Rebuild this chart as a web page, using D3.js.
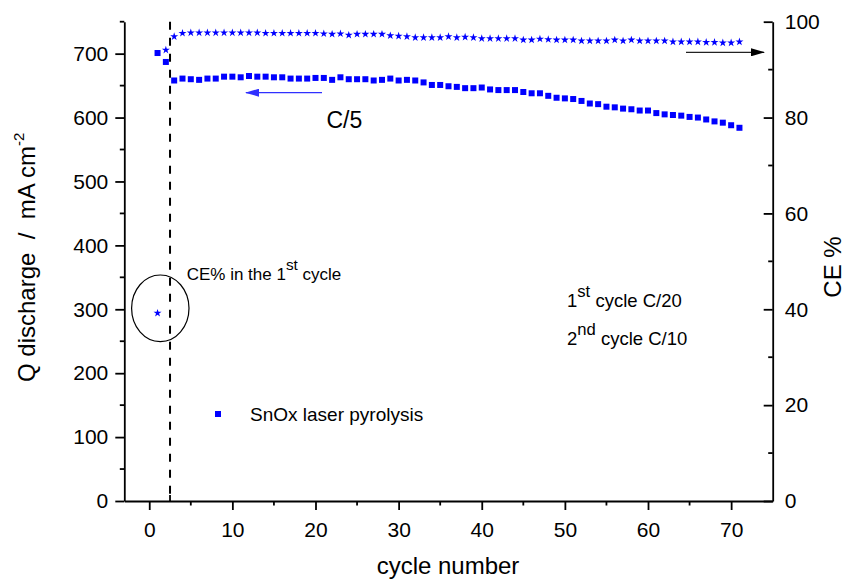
<!DOCTYPE html>
<html>
<head>
<meta charset="utf-8">
<script src="https://cdn.jsdelivr.net/npm/d3@7"></script>
<style>
  html, body { margin: 0; padding: 0; background: #fff; }
  svg text { font-family: "Liberation Sans", Arial, sans-serif; fill: #000; }
</style>
</head>
<body>
<svg id="chart" width="846" height="586"></svg>
<script>
// ─── Data ──────────────────────────────────────
const cycles = d3.range(1, 72);   // cycle 1 … 71

// Q discharge, mA cm-2 (left axis)
const qDischarge = [
  701, 687, 658, 661, 660, 659, 661, 661, 664, 664,
  663, 665, 664, 664, 663, 663, 661, 661, 661, 662,
  662, 659, 663, 660, 660, 660, 658, 659, 661, 658,
  659, 658, 655, 651, 651, 649, 648, 646, 646, 647,
  644, 643, 643, 643, 640, 638, 638, 634, 631, 630,
  629, 626, 622, 621, 617, 616, 614, 613, 611, 611,
  607, 605, 604, 603, 601, 600, 597, 594, 592, 588,
  584
];

// Coulombic efficiency, % (right axis)
const ceValues = [
  39.2, 94.1, 96.9, 97.6, 97.7, 97.7, 97.7, 97.7, 97.7, 97.7,
  97.7, 97.7, 97.7, 97.6, 97.6, 97.6, 97.6, 97.6, 97.6, 97.6,
  97.5, 97.4, 97.5, 97.2, 97.4, 97.4, 97.4, 97.4, 97.1, 97.0,
  96.9, 96.7, 96.7, 96.7, 96.7, 96.9, 96.7, 96.8, 96.7, 96.5,
  96.5, 96.5, 96.5, 96.5, 96.2, 96.2, 96.4, 96.3, 96.2, 96.2,
  96.2, 96.0, 96.0, 96.0, 96.0, 96.2, 96.0, 96.2, 96.0, 96.0,
  96.0, 96.0, 95.8, 95.8, 95.8, 95.8, 95.7, 95.7, 95.6, 95.6,
  95.8
];

const xTicks  = [0, 10, 20, 30, 40, 50, 60, 70];
const qTicks  = [0, 100, 200, 300, 400, 500, 600, 700];
const ceTicks = [0, 20, 40, 60, 80, 100];
const rateChangeCycle = 2.5;      // dashed line between C/10 and C/5

// ─── Layout ────────────────────────────────────
const X0 = 124.3, X1 = 772.7, YT = 21.7, YB = 501;
const BLUE = '#0000ff';

const svg = d3.select('#chart');
const defs = svg.append('defs');

const x   = d3.scaleLinear([-3, 75], [X0, X1]);
const yQ  = d3.scaleLinear([0, 750], [YB, YT]);
const yCE = d3.scaleLinear([0, 100], [YB, YT]);

// arrow heads
function arrowHead(id, color) {
  defs.append('marker')
    .attr('id', id)
    .attr('viewBox', '0 0 14 8')
    .attr('refX', 13).attr('refY', 4)
    .attr('markerWidth', 14).attr('markerHeight', 8)
    .attr('markerUnits', 'userSpaceOnUse')
    .attr('orient', 'auto')
    .append('path')
      .attr('d', 'M0,0 L14,4 L0,8 Z')
      .attr('fill', color);
}
arrowHead('headBlue', '#3030ff');
arrowHead('headBlack', '#000');

// ─── Axes ──────────────────────────────────────
function styleAxis(g) {
  g.selectAll('path, line').attr('stroke', '#000').attr('stroke-width', 1.8);
  g.selectAll('text')
    .attr('font-family', '"Liberation Sans", Arial, sans-serif')
    .attr('font-size', 21).attr('fill', '#000');
}

svg.append('g')
  .attr('transform', `translate(0,${YB})`)
  .call(d3.axisBottom(x).tickValues(xTicks).tickSize(9).tickSizeOuter(0).tickPadding(12))
  .call(styleAxis);

svg.append('g')
  .attr('transform', `translate(${X0},0)`)
  .call(d3.axisLeft(yQ).tickValues(qTicks).tickSize(9).tickSizeOuter(0).tickPadding(7))
  .call(styleAxis);

svg.append('g')
  .attr('transform', `translate(${X1},0)`)
  .call(d3.axisRight(yCE).tickValues(ceTicks).tickSizeInner(-9).tickSizeOuter(0).tickPadding(12))
  .call(styleAxis);

// minor ticks
const minor = svg.append('g').attr('stroke', '#000').attr('stroke-width', 1.8);
d3.range(5, 75, 10).forEach(v =>
  minor.append('line').attr('x1', x(v)).attr('x2', x(v)).attr('y1', YB).attr('y2', YB + 4.5));
d3.range(50, 800, 100).forEach(v =>
  minor.append('line').attr('x1', X0).attr('x2', X0 - 4.5).attr('y1', yQ(v)).attr('y2', yQ(v)));
d3.range(10, 100, 20).forEach(v =>
  minor.append('line').attr('x1', X1).attr('x2', X1 - 4.5).attr('y1', yCE(v)).attr('y2', yCE(v)));
// tick of the rate-change line on the x axis
minor.append('line').attr('x1', x(rateChangeCycle)).attr('x2', x(rateChangeCycle))
  .attr('y1', YB).attr('y2', YB - 6);

// axis titles
svg.append('text')
  .attr('x', 448).attr('y', 574)
  .attr('text-anchor', 'middle').attr('font-size', 24)
  .text('cycle number');

const lt = svg.append('text')
  .attr('transform', 'translate(35,382) rotate(-90)')
  .attr('font-size', 24)
  .style('white-space', 'pre');
lt.append('tspan').text('Q discharge  /  mA cm');
lt.append('tspan').attr('font-size', 15).attr('dy', -11).text('-2');

svg.append('text')
  .attr('transform', 'translate(841,267) rotate(-90)')
  .attr('text-anchor', 'middle').attr('font-size', 24)
  .text('CE %');

// ─── Rate change line ─────────────────────────
svg.append('line')
  .attr('x1', x(rateChangeCycle)).attr('x2', x(rateChangeCycle))
  .attr('y1', YT).attr('y2', YB)
  .attr('stroke', '#000').attr('stroke-width', 2)
  .attr('stroke-dasharray', '8,8');

// ─── Series ───────────────────────────────────
const qData  = cycles.map((c, i) => ({ c, v: qDischarge[i] }));
const ceData = cycles.map((c, i) => ({ c, v: ceValues[i] }));

svg.append('g').selectAll('rect')
  .data(qData)
  .enter().append('rect')
    .attr('x', d => x(d.c) - 3)
    .attr('y', d => yQ(d.v) - 3)
    .attr('width', 6).attr('height', 6)
    .attr('fill', BLUE);

const star = d3.symbol(d3.symbolStar, 20);
svg.append('g').selectAll('path')
  .data(ceData)
  .enter().append('path')
    .attr('transform', d => `translate(${x(d.c)},${yCE(d.v)})`)
    .attr('d', star)
    .attr('fill', BLUE);

// ─── Annotations ──────────────────────────────
// arrow to the left axis for Q
svg.append('line')
  .attr('x1', 322).attr('y1', 92.7).attr('x2', 246).attr('y2', 92.7)
  .attr('stroke', '#3030ff').attr('stroke-width', 1.2)
  .attr('marker-end', 'url(#headBlue)');

svg.append('text')
  .attr('x', 326.5).attr('y', 128.3).attr('font-size', 23)
  .text('C/5');

// arrow to the right axis for CE
svg.append('line')
  .attr('x1', 686).attr('y1', 52.3).attr('x2', 764).attr('y2', 52.3)
  .attr('stroke', '#222').attr('stroke-width', 1.3)
  .attr('marker-end', 'url(#headBlack)');

// circle around 1st cycle CE
svg.append('ellipse')
  .attr('cx', 160.3).attr('cy', 308.3).attr('rx', 28.7).attr('ry', 33.3)
  .attr('fill', 'none').attr('stroke', '#000').attr('stroke-width', 1.2);

function supText(xp, yp, size, parts) {
  const t = svg.append('text').attr('x', xp).attr('y', yp).attr('font-size', size)
    .style('white-space', 'pre');
  parts.forEach(p => {
    if (p.sup) {
      t.append('tspan').attr('font-size', size * 0.9).attr('dy', -10).text(p.sup);
    } else {
      t.append('tspan').attr('dy', p.after ? 10 : 0).text(p.txt);
    }
  });
  return t;
}

supText(186.7, 280, 17, [{ txt: 'CE% in the 1' }, { sup: 'st' }, { txt: ' cycle', after: true }]);
supText(567, 307, 18.5, [{ txt: '1' }, { sup: 'st' }, { txt: ' cycle C/20', after: true }]);
supText(567, 345, 18.5, [{ txt: '2' }, { sup: 'nd' }, { txt: ' cycle C/10', after: true }]);

// legend
svg.append('rect')
  .attr('x', 215).attr('y', 411).attr('width', 6).attr('height', 6)
  .attr('fill', BLUE);
svg.append('text')
  .attr('x', 250).attr('y', 421).attr('font-size', 19)
  .text('SnOx laser pyrolysis');
</script>
</body>
</html>
